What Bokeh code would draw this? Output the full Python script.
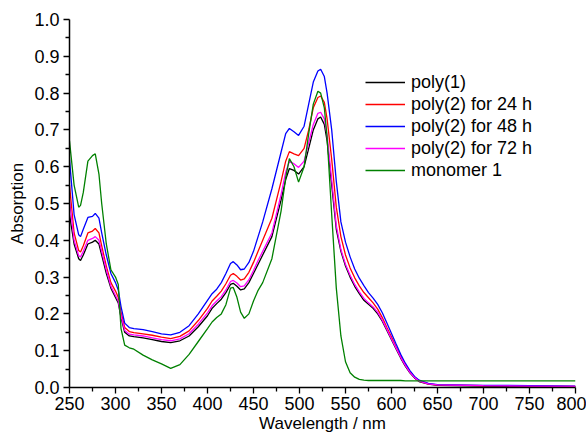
from bokeh.plotting import figure
from bokeh.models import Range1d, FixedTicker, Legend, LegendItem, NumeralTickFormatter
from bokeh.embed import file_html
from bokeh.resources import INLINE

wavelength = [250, 255, 260, 262, 265, 270, 275, 278, 282, 285, 290, 295, 300, 303, 306, 310, 315, 320,
              330, 340, 350, 360, 370, 380, 390, 400, 405, 410, 415, 420, 425, 428, 432, 436, 440, 445,
              450, 455, 460, 470, 480, 485, 489, 494, 499, 505, 510, 515, 520, 523, 527, 530, 535, 540,
              545, 550, 555, 560, 565, 570, 575, 580, 585, 590, 595, 600, 605, 610, 615, 620, 625, 630,
              640, 650, 700, 750, 800]

poly1 = [0.47, 0.39, 0.35, 0.345, 0.36, 0.39, 0.395, 0.40, 0.39, 0.36, 0.31, 0.27, 0.245, 0.23, 0.19, 0.15,
         0.14, 0.138, 0.135, 0.13, 0.125, 0.122, 0.127, 0.14, 0.165, 0.195, 0.215, 0.228, 0.24, 0.258, 0.28,
         0.283, 0.275, 0.265, 0.268, 0.285, 0.31, 0.335, 0.36, 0.41, 0.51, 0.565, 0.595, 0.59, 0.58, 0.60,
         0.65, 0.70, 0.73, 0.735, 0.715, 0.67, 0.55, 0.43, 0.37, 0.33, 0.30, 0.275, 0.255, 0.237, 0.226,
         0.215, 0.20, 0.18, 0.155, 0.13, 0.105, 0.08, 0.058, 0.04, 0.026, 0.016, 0.009, 0.006, 0.004, 0.003,
         0.002]

poly2_24h = [0.55, 0.42, 0.372, 0.368, 0.385, 0.42, 0.425, 0.432, 0.42, 0.385, 0.33, 0.285, 0.262, 0.245,
             0.205, 0.163, 0.152, 0.149, 0.146, 0.142, 0.137, 0.133, 0.139, 0.154, 0.182, 0.215, 0.235, 0.248,
             0.262, 0.282, 0.305, 0.31, 0.302, 0.292, 0.295, 0.313, 0.34, 0.37, 0.40, 0.46, 0.56, 0.615, 0.641,
             0.635, 0.63, 0.65, 0.70, 0.76, 0.788, 0.792, 0.775, 0.73, 0.62, 0.49, 0.41, 0.36, 0.325, 0.298,
             0.276, 0.258, 0.244, 0.23, 0.213, 0.19, 0.163, 0.137, 0.11, 0.085, 0.062, 0.043, 0.028, 0.018,
             0.01, 0.007, 0.005, 0.004, 0.003]

poly2_48h = [0.62, 0.47, 0.415, 0.41, 0.43, 0.462, 0.465, 0.473, 0.46, 0.42, 0.36, 0.31, 0.285, 0.265, 0.22,
             0.175, 0.163, 0.16, 0.157, 0.152, 0.146, 0.143, 0.15, 0.168, 0.20, 0.237, 0.255, 0.267, 0.285,
             0.31, 0.337, 0.342, 0.333, 0.32, 0.322, 0.34, 0.37, 0.41, 0.45, 0.54, 0.64, 0.69, 0.704, 0.695,
             0.685, 0.71, 0.77, 0.83, 0.86, 0.865, 0.845, 0.80, 0.70, 0.56, 0.45, 0.395, 0.355, 0.322, 0.297,
             0.277, 0.258, 0.243, 0.226, 0.203, 0.175, 0.147, 0.118, 0.09, 0.066, 0.046, 0.03, 0.02, 0.011,
             0.008, 0.006, 0.005, 0.004]

poly2_72h = [0.51, 0.40, 0.358, 0.355, 0.37, 0.40, 0.405, 0.41, 0.40, 0.37, 0.32, 0.275, 0.25, 0.235, 0.195,
             0.155, 0.145, 0.143, 0.14, 0.135, 0.13, 0.127, 0.132, 0.146, 0.172, 0.203, 0.222, 0.235, 0.247,
             0.265, 0.288, 0.291, 0.284, 0.274, 0.276, 0.293, 0.318, 0.345, 0.37, 0.42, 0.525, 0.585, 0.615,
             0.608, 0.598, 0.615, 0.665, 0.715, 0.745, 0.748, 0.73, 0.685, 0.565, 0.44, 0.375, 0.335, 0.305,
             0.28, 0.26, 0.242, 0.23, 0.219, 0.204, 0.183, 0.158, 0.132, 0.107, 0.082, 0.06, 0.041, 0.027,
             0.017, 0.01, 0.007, 0.005, 0.004, 0.003]

monomer1 = [0.67, 0.55, 0.49, 0.495, 0.53, 0.615, 0.63, 0.635, 0.58, 0.50, 0.39, 0.32, 0.30, 0.28, 0.16,
            0.115, 0.108, 0.104, 0.088, 0.075, 0.064, 0.052, 0.062, 0.09, 0.125, 0.16, 0.178, 0.19, 0.20,
            0.225, 0.27, 0.272, 0.245, 0.205, 0.188, 0.20, 0.235, 0.264, 0.285, 0.35, 0.48, 0.57, 0.622,
            0.60, 0.558, 0.60, 0.69, 0.77, 0.805, 0.80, 0.76, 0.68, 0.47, 0.27, 0.14, 0.07, 0.04, 0.028,
            0.022, 0.02, 0.019, 0.019, 0.019, 0.019, 0.019, 0.019, 0.019, 0.019, 0.018, 0.018, 0.018, 0.018,
            0.018, 0.018, 0.018, 0.018, 0.018]

series_labels = ["poly(1)", "poly(2) for 24 h", "poly(2) for 48 h", "poly(2) for 72 h", "monomer 1"]
series_values = [poly1, poly2_24h, poly2_48h, poly2_72h, monomer1]
series_colors = ["#000000", "#ff0000", "#0000ff", "#ff00ff", "#008000"]

x_ticks = [250, 300, 350, 400, 450, 500, 550, 600, 650, 700, 750, 800]
y_ticks = [0.0, 0.1, 0.2, 0.3, 0.4, 0.5, 0.6, 0.7, 0.8, 0.9, 1.0]

FONT = "Liberation Sans"

p = figure(width=586, height=435, output_backend="svg", toolbar_location=None,
           x_range=Range1d(250, 800), y_range=Range1d(0, 1.0),
           min_border_left=69, min_border_right=11, min_border_top=19, min_border_bottom=48)
p.outline_line_color = None
p.xgrid.visible = False
p.ygrid.visible = False

items = []
for lab, vals, col in zip(series_labels, series_values, series_colors):
    r = p.line(wavelength, vals, line_color=col, line_width=1.3)
    items.append(LegendItem(label=lab, renderers=[r]))

legend = Legend(items=items, location=(296, 206), glyph_width=40, glyph_height=22, spacing=0,
                label_standoff=6, padding=0, margin=0, border_line_color=None,
                background_fill_alpha=0, label_text_font=FONT, label_text_font_size="18px",
                label_text_color="black", label_height=22)
p.add_layout(legend)

for ax in (p.xaxis[0], p.yaxis[0]):
    ax.axis_line_width = 1.5
    ax.axis_line_color = "black"
    ax.major_tick_line_color = "black"
    ax.minor_tick_line_color = "black"
    ax.major_tick_line_width = 1.3
    ax.minor_tick_line_width = 1.3
    ax.major_tick_out = 6
    ax.major_tick_in = 0
    ax.minor_tick_out = 4
    ax.minor_tick_in = 0
    ax.major_label_text_font = FONT
    ax.major_label_text_font_size = "18px"
    ax.major_label_text_color = "black"
    ax.axis_label_text_font = FONT
    ax.axis_label_text_font_size = "17px"
    ax.axis_label_text_font_style = "normal"
    ax.axis_label_text_color = "black"

p.xaxis.ticker = FixedTicker(ticks=x_ticks, minor_ticks=[275 + 50 * i for i in range(11)])
p.yaxis.ticker = FixedTicker(ticks=y_ticks, minor_ticks=[0.05 + 0.1 * i for i in range(10)])
p.yaxis.formatter = NumeralTickFormatter(format="0.0")
p.xaxis.major_label_standoff = 3
p.yaxis.major_label_standoff = 4
p.xaxis.axis_label = "Wavelength / nm"
p.yaxis.axis_label = "Absorption"
p.xaxis.axis_label_standoff = 1
p.yaxis.axis_label_standoff = 4

open("out.html", "w").write(file_html(p, INLINE))
